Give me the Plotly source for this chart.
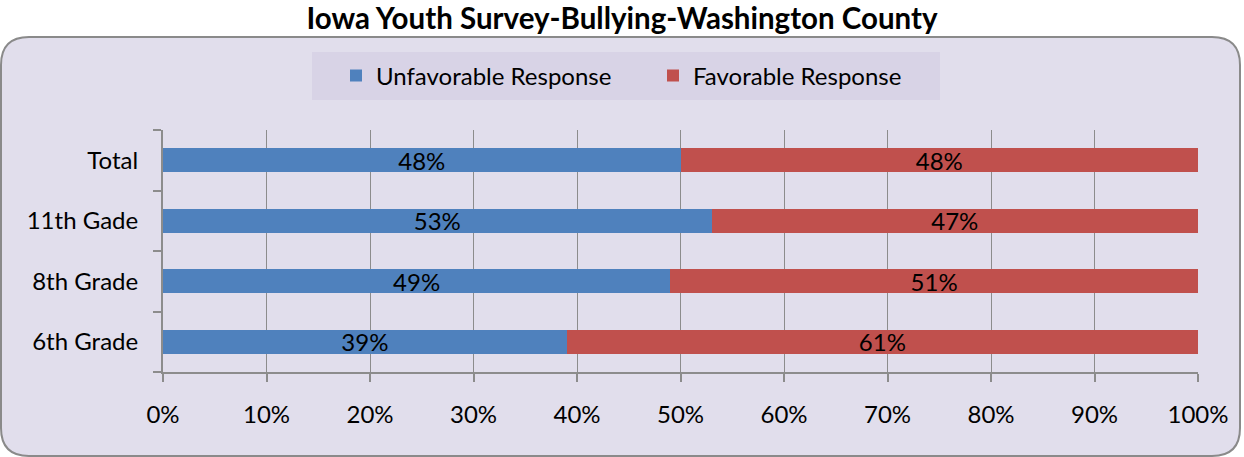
import plotly.graph_objects as go

categories = ["6th Grade", "8th Grade", "11th Gade", "Total"]
unfavorable = [39, 49, 53, 48]
favorable = [61, 51, 47, 48]
x_ticks = [0, 10, 20, 30, 40, 50, 60, 70, 80, 90, 100]
x_tick_labels = [f"{v}%" for v in x_ticks]

W, H = 1244, 457
L, R, T, B = 163, 46, 130, 85
FONT = "Lato, Open Sans, sans-serif"
FS = 24

def px(x):
    return (x - L) / (W - L - R)

def py(y):
    return (H - B - y) / (H - T - B)

fig = go.Figure()
fig.add_trace(go.Bar(
    y=categories, x=unfavorable, name="Unfavorable Response", orientation="h",
    marker=dict(color="#4F81BD", line=dict(width=0)),
    text=[f"{v}%" for v in unfavorable], textposition="inside",
    insidetextanchor="middle", constraintext="none",
    textfont=dict(color="black", size=FS, family=FONT), width=0.4,
))
fig.add_trace(go.Bar(
    y=categories, x=favorable, name="Favorable Response", orientation="h",
    marker=dict(color="#C0504D", line=dict(width=0)),
    text=[f"{v}%" for v in favorable], textposition="inside",
    insidetextanchor="middle", constraintext="none",
    textfont=dict(color="black", size=FS, family=FONT), width=0.4,
))

# rounded rectangle background
x0, y0, x1, y1, r = 1, 37, 1240, 456, 28
path = (f"M {px(x0+r)},{py(y0)} L {px(x1-r)},{py(y0)} Q {px(x1)},{py(y0)} {px(x1)},{py(y0+r)} "
        f"L {px(x1)},{py(y1-r)} Q {px(x1)},{py(y1)} {px(x1-r)},{py(y1)} "
        f"L {px(x0+r)},{py(y1)} Q {px(x0)},{py(y1)} {px(x0)},{py(y1-r)} "
        f"L {px(x0)},{py(y0+r)} Q {px(x0)},{py(y0)} {px(x0+r)},{py(y0)} Z")

fig.update_layout(
    width=W, height=H,
    margin=dict(l=L, r=R, t=T, b=B),
    barmode="stack", barnorm="percent",
    paper_bgcolor="white", plot_bgcolor="white",
    font=dict(family=FONT, size=FS, color="black"),
    title=dict(text="<b>Iowa Youth Survey-Bullying-Washington County</b>",
               x=0.5, xanchor="center", y=1 - 19 / H, yanchor="middle",
               font=dict(size=29.5, family=FONT, color="black")),
    shapes=[
        dict(type="path", path=path, xref="paper", yref="paper", layer="below",
             fillcolor="#E1DEEC", line=dict(color="#8A8A8A", width=2)),
        dict(type="rect", xref="paper", yref="paper", layer="below",
             x0=px(312), x1=px(940), y0=py(52), y1=py(100),
             fillcolor="#D8D3E6", line=dict(width=0)),
    ],
    legend=dict(orientation="h", x=px(336), xanchor="left", y=py(76), yanchor="middle",
                bgcolor="rgba(0,0,0,0)", font=dict(size=FS, family=FONT),
                itemwidth=30, traceorder="normal", entrywidth=272,
                borderwidth=0),
    uniformtext=dict(mode="show", minsize=FS),
    bargap=0.6,
)
fig.update_xaxes(range=[0, 100], tickvals=x_ticks, ticktext=x_tick_labels,
                 showgrid=True, gridcolor="#8C8C8C", gridwidth=1,
                 showline=True, linecolor="#8C8C8C", linewidth=2,
                 ticks="outside", ticklen=8, tickcolor="#8C8C8C", tickwidth=2,
                 tickfont=dict(size=FS), fixedrange=True, zeroline=False,
                 ticklabelstandoff=12)
fig.update_yaxes(type="category", categoryorder="array", categoryarray=categories,
                 showline=True, linecolor="#8C8C8C", linewidth=2,
                 ticks="outside", tickson="boundaries", ticklen=8,
                 tickcolor="#8C8C8C", tickwidth=2, showgrid=False,
                 tickfont=dict(size=FS), ticklabelstandoff=18, fixedrange=True)

fig.write_html("out.html", config={"displayModeBar": False},
               post_script="document.body.style.margin='0';")
